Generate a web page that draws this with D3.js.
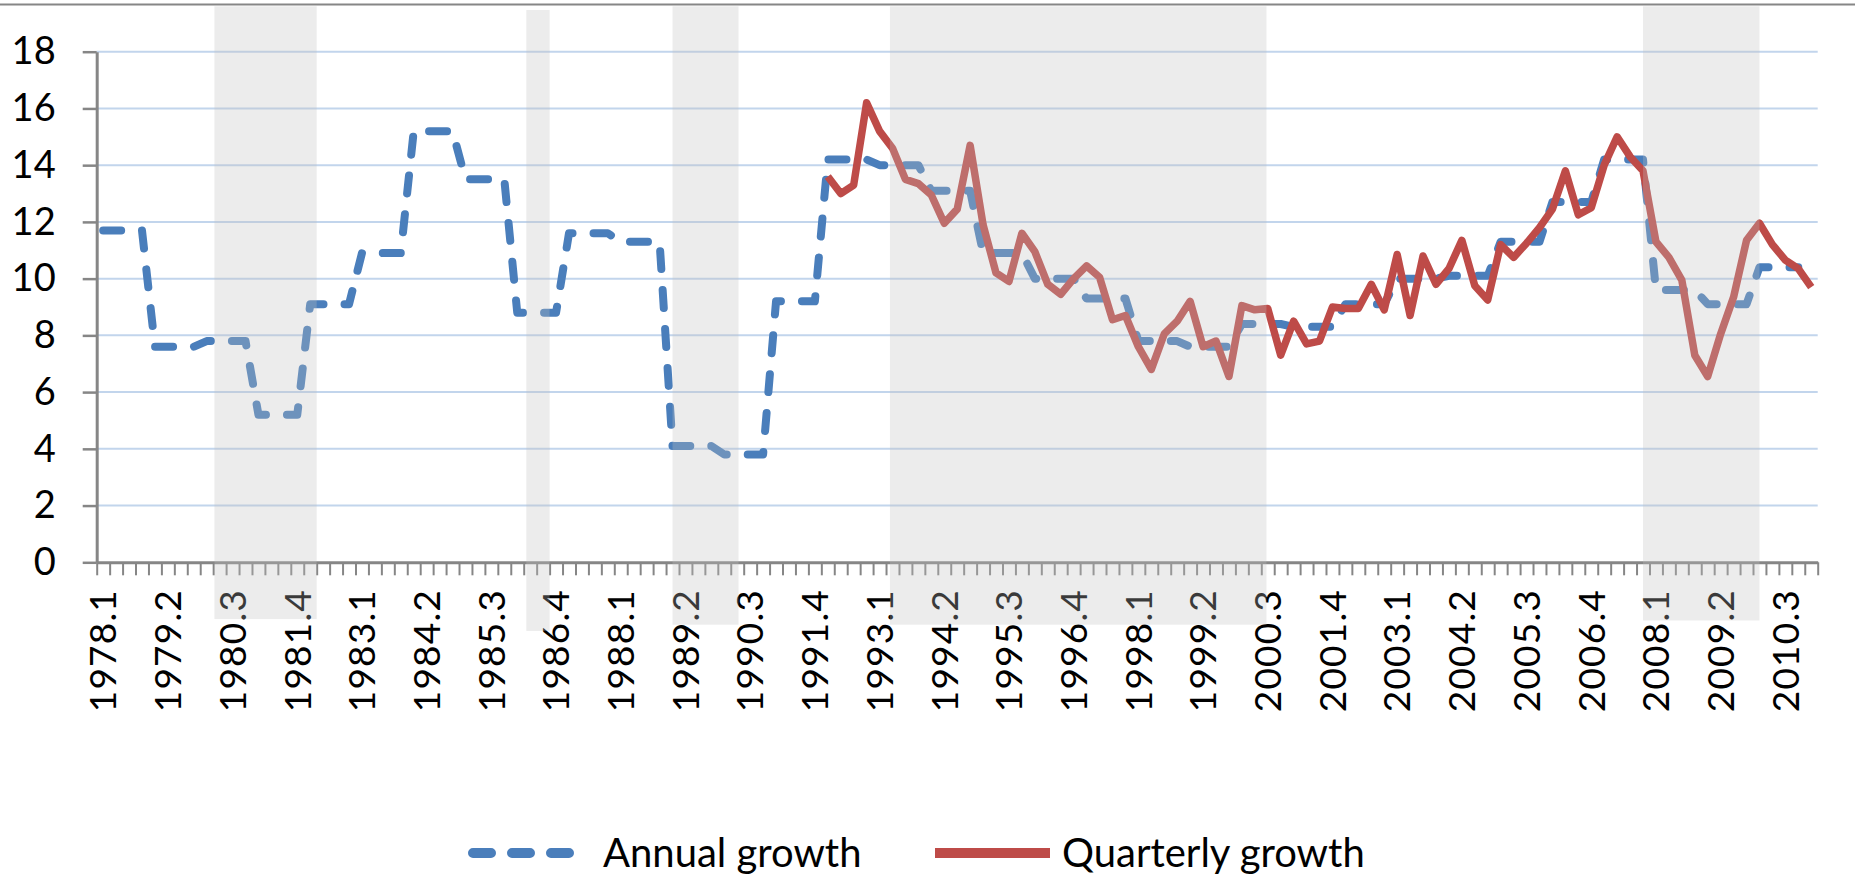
<!DOCTYPE html>
<html>
<head>
<meta charset="utf-8">
<script src="https://cdn.jsdelivr.net/npm/d3@7"></script>
<style>
  body { margin: 0; background: #fff; }
  svg { display: block; }
  text { font-family: Lato, "Open Sans", "DejaVu Sans", sans-serif; fill: #000; }
</style>
</head>
<body>
<svg id="chart"></svg>
<script>
// ---- data ----
const firstYear = 1978;
const lastQuarter = "2011.1";

// annual GDP growth, one value per year (drawn on each quarter of the year)
const annualYears = [1978, 1979, 1980, 1981, 1982, 1983, 1984, 1985, 1986, 1987, 1988,
  1989, 1990, 1991, 1992, 1993, 1994, 1995, 1996, 1997, 1998, 1999, 2000, 2001, 2002,
  2003, 2004, 2005, 2006, 2007, 2008, 2009, 2010];
const annualGrowth = [11.7, 7.6, 7.8, 5.2, 9.1, 10.9, 15.2, 13.5, 8.8, 11.6, 11.3,
  4.1, 3.8, 9.2, 14.2, 14.0, 13.1, 10.9, 10.0, 9.3, 7.8, 7.6, 8.4, 8.3, 9.1,
  10.0, 10.1, 11.3, 12.7, 14.2, 9.6, 9.1, 10.4];

// quarterly growth, from 1992.1 to 2011.1
const quarterlyStart = "1992.1";
const quarterlyGrowth = [
  13.6, 13.0, 13.3, 16.2, 15.2, 14.6, 13.5, 13.35, 12.95, 11.95, 12.45, 14.7,
  11.9, 10.2, 9.9, 11.6, 10.95, 9.8, 9.45, 10.0, 10.45, 10.05, 8.55, 8.7,
  7.6, 6.8, 8.05, 8.5, 9.2, 7.6, 7.8, 6.55, 9.05, 8.9, 8.95, 7.3,
  8.5, 7.7, 7.8, 9.0, 8.95, 8.95, 9.8, 8.9, 10.85, 8.7, 10.8, 9.8,
  10.35, 11.35, 9.75, 9.25, 11.2, 10.75, 11.25, 11.8, 12.45, 13.8, 12.25, 12.5,
  14.0, 15.0, 14.3, 13.8, 11.3, 10.75, 9.95, 7.3, 6.55, 8.05, 9.35, 11.35,
  11.95, 11.2, 10.65, 10.35, 9.7
];

// shaded periods (in category positions) and their vertical reach (in axis units)
const bandStart  = [9.1, 33.2, 44.5, 61.3, 119.5];
const bandEnd    = [17.0, 35.0, 49.6, 90.4, 128.5];
const bandTop    = [19.6, 19.47, 19.6, 19.6, 19.6];
const bandBottom = [-2.0, -2.42, -2.2, -2.2, -2.05];

const yTicks = [0, 2, 4, 6, 8, 10, 12, 14, 16, 18];
const labelEvery = 5;
const seriesNames = ["Annual growth", "Quarterly growth"];

// quarter categories
const quarters = [];
for (let yr = firstYear; ; yr++) {
  let done = false;
  for (let q = 1; q <= 4; q++) {
    quarters.push(`${yr}.${q}`);
    if (`${yr}.${q}` === lastQuarter) { done = true; break; }
  }
  if (done) break;
}

const annualSeries = quarters
  .map((q, i) => ({ i, v: annualGrowth[annualYears.indexOf(+q.split(".")[0])] }))
  .filter(d => d.v !== undefined);
const qStart = quarters.indexOf(quarterlyStart);
const quarterlySeries = quarterlyGrowth.map((v, k) => ({ i: qStart + k, v }));

// ---- layout ----
const width = 1855, height = 876;
const plotLeft = 96.7, plotRight = 1817.7;
const plotTop = 51.7, plotBottom = 562.3;

const svg = d3.select("#chart").attr("width", width).attr("height", height);

const xEdge = d3.scaleLinear().domain([0, quarters.length]).range([plotLeft, plotRight]);
const xMid = i => xEdge(i + 0.5);
const y = d3.scaleLinear().domain([0, 18]).range([plotBottom, plotTop]);

const axisGray = "#868686";

// top border
svg.append("line")
  .attr("x1", 0).attr("x2", width)
  .attr("y1", 4.6).attr("y2", 4.6)
  .attr("stroke", axisGray).attr("stroke-width", 2);

// gridlines
svg.append("g")
  .selectAll("line")
  .data(yTicks.filter(t => t > 0))
  .join("line")
  .attr("x1", plotLeft).attr("x2", plotRight)
  .attr("y1", d => y(d)).attr("y2", d => y(d))
  .attr("stroke", "#c2d5ec").attr("stroke-width", 2);

// y axis
const yAxis = svg.append("g")
  .attr("transform", `translate(${plotLeft},0)`)
  .call(d3.axisLeft(y).tickValues(yTicks).tickSize(14).tickSizeOuter(0).tickPadding(27));
yAxis.select(".domain").attr("stroke", axisGray).attr("stroke-width", 3);
yAxis.selectAll(".tick line").attr("stroke", axisGray).attr("stroke-width", 2.5);
yAxis.selectAll(".tick text").attr("font-size", 38).attr("fill", "#000")
  .attr("font-family", "Lato, 'Open Sans', sans-serif");

// x axis: ticks at category boundaries
const xAxis = svg.append("g")
  .attr("transform", `translate(0,${plotBottom})`)
  .call(d3.axisBottom(xEdge).tickValues(d3.range(0, quarters.length + 1))
    .tickSize(13).tickSizeOuter(0).tickFormat(""));
xAxis.select(".domain").attr("stroke", axisGray).attr("stroke-width", 3);
xAxis.selectAll(".tick line").attr("stroke", axisGray).attr("stroke-width", 2);

svg.append("g")
  .selectAll("text")
  .data(quarters.map((q, i) => ({ q, i })).filter(d => d.i % labelEvery === 0))
  .join("text")
  .attr("transform", d => `translate(${xMid(d.i)},589) rotate(-90)`)
  .attr("text-anchor", "end")
  .attr("dy", "0.36em")
  .attr("font-size", 37)
  .attr("letter-spacing", 1.2)
  .text(d => d.q);

// series
const line = d3.line().x(d => xMid(d.i)).y(d => y(d.v));

const blue = "#4a7ebb", red = "#be4b48";

svg.append("path")
  .datum(annualSeries)
  .attr("d", line)
  .attr("fill", "none")
  .attr("stroke", blue)
  .attr("stroke-width", 8)
  .attr("stroke-linecap", "round")
  .attr("stroke-linejoin", "round")
  .attr("stroke-dasharray", "18,21");

svg.append("path")
  .datum(quarterlySeries)
  .attr("d", line)
  .attr("fill", "none")
  .attr("stroke", red)
  .attr("stroke-width", 7.5)
  .attr("stroke-linejoin", "round");

// shaded periods, drawn over everything
svg.append("g")
  .selectAll("rect")
  .data(bandStart.map((s, k) => ({ s, e: bandEnd[k], t: bandTop[k], b: bandBottom[k] })))
  .join("rect")
  .attr("x", d => xEdge(d.s))
  .attr("width", d => xEdge(d.e) - xEdge(d.s))
  .attr("y", d => y(d.t))
  .attr("height", d => y(d.b) - y(d.t))
  .attr("fill", "#bfbfbf")
  .attr("fill-opacity", 0.3);

// legend
const legendY = 853;
const legend = [
  { name: seriesNames[0], x1: 473, x2: 580, tx: 603, color: blue, dash: "18,21", w: 10, cap: "round" },
  { name: seriesNames[1], x1: 935, x2: 1050, tx: 1062, color: red, dash: null, w: 10, cap: "butt" }
];
const lg = svg.append("g");
legend.forEach(d => {
  lg.append("line")
    .attr("x1", d.x1).attr("x2", d.x2)
    .attr("y1", legendY).attr("y2", legendY)
    .attr("stroke", d.color).attr("stroke-width", d.w)
    .attr("stroke-linecap", d.cap)
    .attr("stroke-dasharray", d.dash);
  lg.append("text")
    .attr("x", d.tx).attr("y", legendY)
    .attr("dy", "0.35em")
    .attr("font-size", 40)
    .text(d.name);
});
</script>
</body>
</html>
